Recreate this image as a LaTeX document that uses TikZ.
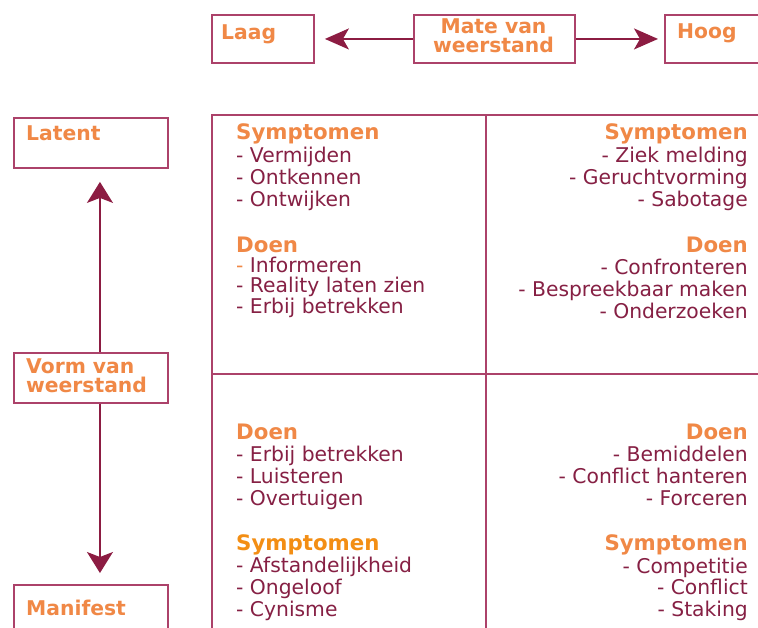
\documentclass[tikz,border=0pt]{standalone}
\usepackage{fontspec}
\setmainfont{DejaVu Sans}
\usetikzlibrary{arrows.meta}
\definecolor{lineC}{RGB}{172,66,106}
\definecolor{arrC}{RGB}{140,28,66}
\definecolor{headC}{RGB}{240,136,70}
\definecolor{headD}{RGB}{243,142,20}
\definecolor{txtC}{RGB}{134,32,68}
\begin{document}
\begin{tikzpicture}[x=1pt,y=-1pt,
  boxnode/.style={draw=lineC, line width=1.9pt, inner sep=0pt, anchor=north west},
  boxlbl/.style={text=headC, font=\fontsize{20.3}{18}\selectfont\bfseries, inner sep=0pt},
  head/.style={text=headC, font=\fontsize{21.3}{22}\selectfont\bfseries, inner sep=0pt},
  body/.style={text=txtC, font=\fontsize{20.3}{22}\selectfont, inner sep=0pt},
  gridline/.style={draw=lineC, line width=1.9pt},
  harrow/.style={draw=arrC, line width=1.6pt, -{Stealth[length=24pt,width=21pt,inset=6pt]}},
  varrow/.style={draw=arrC, line width=1.6pt, -{Stealth[length=21pt,width=26pt,inset=5pt]}}
]
\useasboundingbox (0,0) rectangle (758,627);
\clip (0,0) rectangle (758,627);
\fill[white] (0,0) rectangle (758,627);

% top boxes
\node[boxnode, minimum width=102pt, minimum height=48pt] (laag) at (211,14) {};
\node[boxnode, minimum width=161pt, minimum height=48pt] (mate) at (413,14) {};
\node[boxnode, minimum width=120pt, minimum height=48pt] (hoog) at (664,14) {};
\node[boxlbl, anchor=base west] (laagT) at (221,39) {Laag};
\node[boxlbl, anchor=base west] (hoogT) at (677,38) {Hoog};
\node[boxlbl, anchor=base] (mateT1) at (493.5,33) {Mate van};
\node[boxlbl, anchor=base] (mateT2) at (493.5,52) {weerstand};

% left boxes
\node[boxnode, minimum width=154pt, minimum height=50pt] (latent) at (13,117) {};
\node[boxnode, minimum width=154pt, minimum height=50pt] (vorm) at (13,352) {};
\node[boxnode, minimum width=154pt, minimum height=70pt] (manifest) at (13,584) {};
\node[boxlbl, anchor=base west] (latentT) at (26,140) {Latent};
\node[boxlbl, anchor=base west] (vormT1) at (26,373) {Vorm van};
\node[boxlbl, anchor=base west] (vormT2) at (26,392) {weerstand};
\node[boxlbl, anchor=base west] (manifestT) at (26,615) {Manifest};

% arrows
\draw[harrow, shorten >=10pt] (mate.west) -- (laag.east);
\draw[harrow, shorten >=6pt] (mate.east) -- (hoog.west);
\draw[varrow, shorten >=13pt] ([xshift=9pt]vorm.north) -- ([xshift=9pt]latent.south);
\draw[varrow, shorten >=11pt] ([xshift=9pt]vorm.south) -- ([xshift=9pt]manifest.north);

% grid
\draw[gridline] (212,115) rectangle (790,660);
\draw[gridline] (486,115) -- (486,660);
\draw[gridline] (212,374) -- (790,374);

% top-left quadrant
\node[head, anchor=base west] (tlS) at (236,139) {Symptomen};
\node[body, anchor=base west] (tlS1) at (236,162) {- Vermijden};
\node[body, anchor=base west] (tlS2) at (236,184) {- Ontkennen};
\node[body, anchor=base west] (tlS3) at (236,206) {- Ontwijken};
\node[head, anchor=base west] (tlD) at (236,252) {Doen};
\node[body, anchor=base west] (tlD1) at (236,272) {{\color{headC}-} Informeren};
\node[body, anchor=base west] (tlD2) at (236,292) {- Reality laten zien};
\node[body, anchor=base west] (tlD3) at (236,313) {- Erbij betrekken};

% top-right quadrant
\node[head, anchor=base east] (trS) at (748,139) {Symptomen};
\node[body, anchor=base east] (trS1) at (748,162) {- Ziek melding};
\node[body, anchor=base east] (trS2) at (748,184) {- Geruchtvorming};
\node[body, anchor=base east] (trS3) at (748,206) {- Sabotage};
\node[head, anchor=base east] (trD) at (748,252) {Doen};
\node[body, anchor=base east] (trD1) at (748,274) {- Confronteren};
\node[body, anchor=base east] (trD2) at (748,296) {- Bespreekbaar maken};
\node[body, anchor=base east] (trD3) at (748,318) {- Onderzoeken};

% bottom-left quadrant
\node[head, anchor=base west] (blD) at (236,439) {Doen};
\node[body, anchor=base west] (blD1) at (236,461) {- Erbij betrekken};
\node[body, anchor=base west] (blD2) at (236,483) {- Luisteren};
\node[body, anchor=base west] (blD3) at (236,505) {- Overtuigen};
\node[head, anchor=base west, text=headD] (blS) at (236,550) {Symptomen};
\node[body, anchor=base west] (blS1) at (236,572) {- Afstandelijkheid};
\node[body, anchor=base west] (blS2) at (236,594) {- Ongeloof};
\node[body, anchor=base west] (blS3) at (236,616) {- Cynisme};

% bottom-right quadrant
\node[head, anchor=base east] (brD) at (748,439) {Doen};
\node[body, anchor=base east] (brD1) at (748,461) {- Bemiddelen};
\node[body, anchor=base east] (brD2) at (748,483) {- Conflict hanteren};
\node[body, anchor=base east] (brD3) at (748,505) {- Forceren};
\node[head, anchor=base east] (brS) at (748,550) {Symptomen};
\node[body, anchor=base east] (brS1) at (748,573) {- Competitie};
\node[body, anchor=base east] (brS2) at (748,594) {- Conflict};
\node[body, anchor=base east] (brS3) at (748,616) {- Staking};
\end{tikzpicture}
\end{document}
